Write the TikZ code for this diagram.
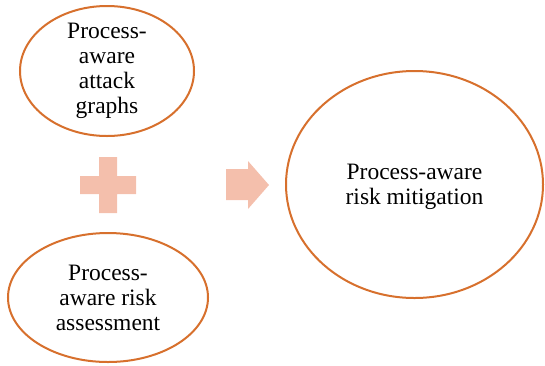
\documentclass[tikz,border=0pt]{standalone}
\usepackage{fontspec}
\setmainfont{Liberation Serif}
\usetikzlibrary{shapes.geometric}
\definecolor{ringorange}{RGB}{215,112,45}
\definecolor{softsalmon}{RGB}{244,191,172}
\tikzset{
  bubble/.style={ellipse, draw=ringorange, line width=2pt, fill=white, inner sep=0pt},
  caption/.style={align=center, inner sep=0pt, font=\fontsize{23.5}{25}\selectfont},
  glyph/.style={fill=softsalmon, draw=none}
}
\begin{document}
\begin{tikzpicture}[x=1pt, y=-1pt]
  \useasboundingbox (0,0) rectangle (545,365);

  % input ellipses and the result ellipse
  \node[bubble, minimum width=174pt, minimum height=130pt] (graphs) at (107,71) {};
  \node[caption] (graphstext) at (graphs.center) {Process-\\aware\\attack\\graphs};

  \node[bubble, minimum width=200pt, minimum height=129pt] (assess) at (108,297.5) {};
  \node[caption] (assesstext) at (assess.center) {Process-\\aware risk\\assessment};

  \node[bubble, minimum width=257pt, minimum height=227pt] (mitig) at (414.5,184.5) {};
  \node[caption] (mitigtext) at ([yshift=-2pt]mitig.center) {Process-aware\\risk mitigation};

  % plus sign
  \fill[glyph] (99,157) -- (117,157) -- (117,176) -- (136,176) -- (136,194)
    -- (117,194) -- (117,213) -- (99,213) -- (99,194) -- (80,194)
    -- (80,176) -- (99,176) -- cycle;

  % block arrow
  \fill[glyph] (226,169) -- (248,169) -- (248,161) -- (269,185)
    -- (248,209) -- (248,200) -- (226,200) -- cycle;
\end{tikzpicture}
\end{document}
